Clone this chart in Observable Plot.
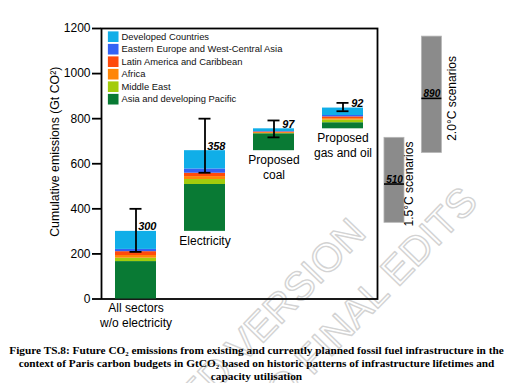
<!DOCTYPE html>
<html><head><meta charset="utf-8">
<script src="https://cdn.jsdelivr.net/npm/d3@7"></script>
<script src="https://cdn.jsdelivr.net/npm/@observablehq/plot@0.6"></script>
<style>
body{margin:0;background:#fff;}
#chart svg{overflow:visible;display:block}
#caption{font-family:"Liberation Serif","Times New Roman",serif;font-weight:bold;font-size:11.3px;line-height:13px;text-align:center;width:513px;margin-top:4px;color:#000;position:relative;white-space:nowrap;}
</style></head><body>
<div id="chart"></div>
<div id="caption">Figure TS.8: Future CO₂ emissions from existing and currently planned fossil fuel infrastructure in the<br>context of Paris carbon budgets in GtCO₂ based on historic patterns of infrastructure lifetimes and<br>capacity utilisation</div>
<script>
// ---- data ----
const categories = ["All sectors\nw/o electricity", "Electricity", "Proposed\ncoal", "Proposed\ngas and oil"];
const regions = ["Asia and developing Pacific", "Middle East", "Africa", "Latin America and Caribbean", "Eastern Europe and West-Central Asia", "Developed Countries"];
const asiaPacific   = [166, 208, 75, 27];
const middleEast    = [15, 22, 1, 12];
const africa        = [12, 13, 4, 6];
const latinAmerica  = [17, 15, 3, 8];
const easternEurope = [10, 19, 2, 6];
const developed     = [80, 81, 12, 33];
const totals        = [300, 358, 97, 92];
const errLow        = [209, 560, 717, 833];
const errHigh       = [400, 800, 792, 870];
const scenarioNames  = ["1.5°C scenarios", "2.0°C scenarios"];
const scenarioLow    = [338, 648];
const scenarioHigh   = [715, 1164];
const scenarioMedian = [510, 890];
const yTicks = [0, 200, 400, 600, 800, 1000, 1200];
const yLabel = "Cumulative emissions (Gt CO²)";
const watermarkLines = ["ACCEPTED VERSION", "SUBJECT TO FINAL EDITS"];

// ---- styling / layout ----
const regionColors = ["#097a34", "#a2cc0c", "#ff8608", "#ff4a0c", "#3462f4", "#10aee8"];
const barHalf = 0.297, capHalf = 0.087;
const scenarioX = [4.746, 5.288], scenarioHalf = 0.145, scenarioLabelX = [4.954, 5.577];
const watermarkX = [4.36, 5.98], watermarkY = [285, 425];

const seriesByRegion = [asiaPacific, middleEast, africa, latinAmerica, easternEurope, developed];
const bases = [];
{ let b = 0; totals.forEach((t, i) => { bases.push(b); b += t; }); }
const segments = [];
categories.forEach((c, i) => {
  let y = bases[i];
  regions.forEach((r, k) => {
    const v = seriesByRegion[k][i];
    segments.push({x: i + 1, region: r, y1: y, y2: y + v});
    y += v;
  });
});
const idx = d3.range(categories.length);
const sIdx = d3.range(scenarioNames.length);
const caps = idx.flatMap(i => [{x: i + 1, y: errLow[i]}, {x: i + 1, y: errHigh[i]}]);
const legendOrder = regions.map((r, k) => ({r, k})).reverse();
const font = "'Liberation Sans', Arial, Helvetica, sans-serif";

const legendMarks = legendOrder.flatMap(({r, k}, i) => [
  Plot.dot([r], {frameAnchor: "top-left", dx: 11.7, dy: 8.2 + 12.5 * i, symbol: "square", r: 6.0, fill: regionColors[k]}),
  Plot.text([r], {frameAnchor: "top-left", dx: 20, dy: 8.4 + 12.5 * i, text: d => d, textAnchor: "start", lineAnchor: "middle", fontSize: 9.4, fill: "#111"})
]);

const plot = Plot.plot({
  width: 513, height: 340,
  marginLeft: 101, marginRight: 136, marginTop: 28, marginBottom: 41.5,
  style: {fontFamily: font, fontSize: "12px", background: "transparent", overflow: "visible", color: "#000"},
  x: {domain: [0.5, 4.5], axis: null},
  y: {domain: [0, 1200], axis: null},
  color: {domain: regions, range: regionColors},
  marks: [
    Plot.text(watermarkLines, {x: (d, i) => watermarkX[i], y: (d, i) => watermarkY[i], text: d => d, rotate: -46, textAnchor: "end", lineAnchor: "bottom", fontSize: 40, fill: "none", stroke: "#d3d3d3", strokeWidth: 1.4}),
    Plot.frame({stroke: "#000", strokeWidth: 1.8}),
    Plot.axisY(yTicks, {anchor: "left", tickSize: 9, tickPadding: 2, fontSize: 12, strokeWidth: 1.8, label: null, tickFormat: d => String(d)}),
    Plot.text([yLabel], {frameAnchor: "left", dx: -46.7, dy: -12, rotate: -90, textAnchor: "middle", lineAnchor: "middle", text: d => d, fontSize: 12.3}),
    Plot.rect(segments, {x1: d => d.x - barHalf, x2: d => d.x + barHalf, y1: "y1", y2: "y2", fill: "region"}),
    Plot.ruleX(idx, {x: i => i + 1, y1: i => errLow[i], y2: i => errHigh[i], stroke: "#000", strokeWidth: 1.8}),
    Plot.ruleY(caps, {y: "y", x1: d => d.x - capHalf, x2: d => d.x + capHalf, stroke: "#000", strokeWidth: 1.8}),
    Plot.text(idx, {x: i => i + 1 + barHalf, y: i => bases[i] + totals[i], text: i => String(totals[i]), textAnchor: "end", lineAnchor: "bottom", dy: -1, fontWeight: "bold", fontStyle: "italic", fontSize: 11}),
    Plot.text(idx, {x: i => i + 1, y: i => bases[i], text: i => categories[i], lineAnchor: "top", dy: 2.5, fontSize: 12, lineHeight: 1.25}),
    Plot.rect(sIdx, {x1: j => scenarioX[j] - scenarioHalf, x2: j => scenarioX[j] + scenarioHalf, y1: j => scenarioLow[j], y2: j => scenarioHigh[j], fill: "#8b8b8b", stroke: "#b5b5b5", strokeWidth: 0.8}),
    Plot.ruleY(sIdx, {y: j => scenarioMedian[j], x1: j => scenarioX[j] - scenarioHalf, x2: j => scenarioX[j] + scenarioHalf, stroke: "#000", strokeWidth: 1.6}),
    Plot.text(sIdx, {x: j => scenarioX[j], y: j => scenarioMedian[j], text: j => String(scenarioMedian[j]), lineAnchor: "bottom", dy: -1, fontWeight: "bold", fontStyle: "italic", fontSize: 10}),
    Plot.text(sIdx, {x: j => scenarioLabelX[j], y: j => scenarioMedian[j], text: j => scenarioNames[j], rotate: -90, textAnchor: "middle", fontSize: 12}),
    ...legendMarks
  ]
});
document.getElementById("chart").append(plot);
</script>
</body></html>
